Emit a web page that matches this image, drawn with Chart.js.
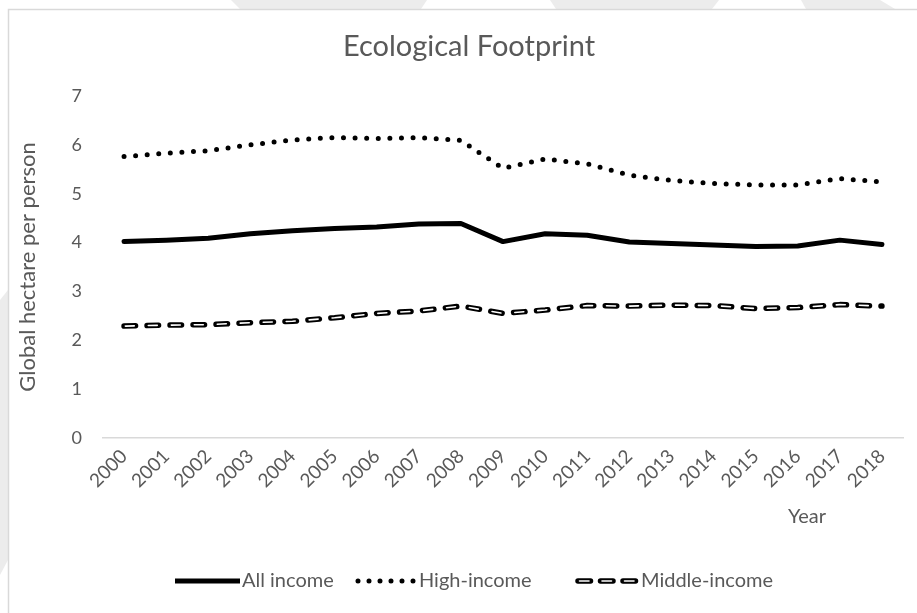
<!DOCTYPE html>
<html>
<head>
<meta charset="utf-8">
<title>Ecological Footprint</title>
<script src="https://cdn.jsdelivr.net/npm/chart.js@4.4.1/dist/chart.umd.min.js"></script>
<style>
  html, body { margin: 0; padding: 0; background: #fff; }
  #wrap { position: relative; width: 917px; height: 613px; overflow: hidden; }
  canvas { position: absolute; left: 0; top: 0; }
</style>
</head>
<body>
<div id="wrap"><canvas id="chart" width="917" height="613"></canvas></div>
<script>
// Years on the category axis
const years = ['2000', '2001', '2002', '2003', '2004', '2005', '2006', '2007', '2008', '2009',
               '2010', '2011', '2012', '2013', '2014', '2015', '2016', '2017', '2018'];

// Ecological footprint, global hectares per person
const allIncome    = [4.02, 4.05, 4.09, 4.18, 4.24, 4.29, 4.32, 4.38, 4.39, 4.02,
                      4.18, 4.15, 4.01, 3.98, 3.95, 3.92, 3.93, 4.05, 3.96];
const highIncome   = [5.76, 5.83, 5.88, 6.00, 6.10, 6.15, 6.13, 6.15, 6.09, 5.52,
                      5.71, 5.61, 5.38, 5.27, 5.21, 5.18, 5.18, 5.31, 5.24];
const middleIncome = [2.29, 2.31, 2.32, 2.36, 2.39, 2.46, 2.55, 2.60, 2.70, 2.55,
                      2.62, 2.71, 2.70, 2.72, 2.71, 2.65, 2.67, 2.73, 2.70];

// Value axis
const yMin = 0;
const yMax = 7;
const yStep = 1;

// Texts
const chartTitle = 'Ecological Footprint';
const yAxisTitle = 'Global hectare per person';
const xAxisTitle = 'Year';
const seriesNames = ['All income', 'High-income', 'Middle-income'];

const FONT = 'Lato, "Open Sans", sans-serif';
const TEXT = '#595959';

// Line looks of the plotted series
const solidStyle  = { color: '#000', width: 5, dash: [], cap: 'round' };
const dottedStyle = { color: '#000', width: 5, dash: [0, 11.6], cap: 'round' };
const dashOuter   = { color: '#000', width: 5.5, dash: [11.5, 11.5], offset: 0, cap: 'round' };
const dashInner   = { color: '#fff', width: 1.6, dash: [9, 14], offset: -1.25, cap: 'round' };

// Legend samples use slightly tighter patterns
const legendSamples = [
  { x: 175, w: 65, strokes: [{ color: '#000', width: 5, dash: [], cap: 'butt' }] },
  { x: 355, w: 62, strokes: [{ color: '#000', width: 5, dash: [0, 11], cap: 'round' }] },
  { x: 575, w: 64, strokes: [
      { color: '#000', width: 5.5, dash: [12.5, 10], cap: 'round' },
      { color: '#fff', width: 1.6, dash: [9.5, 13], offset: -1.5, cap: 'round' }
  ] }
];

function lineDataset(label, data, st, order) {
  return {
    label, data, order,
    borderColor: st.color,
    borderWidth: st.width,
    borderDash: st.dash,
    borderDashOffset: st.offset || 0,
    borderCapStyle: st.cap,
    borderJoinStyle: 'round',
    pointRadius: 0,
    pointHoverRadius: 0,
    tension: 0,
    fill: false
  };
}

function strokeSample(ctx, st, x0, x1, y) {
  ctx.save();
  ctx.strokeStyle = st.color;
  ctx.lineWidth = st.width;
  ctx.setLineDash(st.dash);
  ctx.lineDashOffset = st.offset || 0;
  ctx.lineCap = st.cap;
  ctx.beginPath();
  ctx.moveTo(x0, y);
  ctx.lineTo(x1, y);
  ctx.stroke();
  ctx.restore();
}

// Frame, watermark shapes behind it, titles and the legend
const decorations = {
  id: 'decorations',
  beforeDraw(chart) {
    const { ctx, width, height } = chart;
    ctx.save();
    ctx.fillStyle = '#fff';
    ctx.fillRect(0, 0, width, height);
    ctx.fillStyle = '#ececec';
    const shapes = [
      [[231, 0], [427, 0], [421, 9], [240, 9]],
      [[550, 0], [719, 0], [712, 9], [556, 9]],
      [[801, 0], [880, 0], [895, 9], [806, 9]],
      [[0, 300], [8, 290], [8, 560], [0, 575]]
    ];
    for (const s of shapes) {
      ctx.beginPath();
      ctx.moveTo(s[0][0], s[0][1]);
      for (let i = 1; i < s.length; i++) ctx.lineTo(s[i][0], s[i][1]);
      ctx.closePath();
      ctx.fill();
    }
    ctx.fillStyle = '#fff';
    ctx.fillRect(8, 9, width, height);
    ctx.strokeStyle = '#d9d9d9';
    ctx.lineWidth = 1.5;
    ctx.beginPath();
    ctx.moveTo(8.5, height + 5);
    ctx.lineTo(8.5, 9.5);
    ctx.lineTo(width + 5, 9.5);
    ctx.stroke();
    ctx.restore();
  },
  afterDraw(chart) {
    const { ctx, chartArea } = chart;
    ctx.save();
    ctx.fillStyle = TEXT;
    ctx.textAlign = 'center';
    ctx.textBaseline = 'middle';

    // chart title
    ctx.font = `29px ${FONT}`;
    ctx.fillText(chartTitle, 469, 47);

    // value axis title
    ctx.save();
    ctx.translate(28, 267);
    ctx.rotate(-Math.PI / 2);
    ctx.font = `22px ${FONT}`;
    ctx.fillText(yAxisTitle, 0, 0);
    ctx.restore();

    // category axis title
    ctx.font = `20px ${FONT}`;
    ctx.fillText(xAxisTitle, chartArea.right - 96, 517);

    // legend: sample line followed by its label
    const ly = 581;
    ctx.font = `20px ${FONT}`;
    ctx.textAlign = 'left';
    seriesNames.forEach((name, i) => {
      const s = legendSamples[i];
      s.strokes.forEach(st => {
        const inset = st.cap === 'round' ? 3 : 0;
        strokeSample(ctx, st, s.x + inset, s.x + s.w - inset, ly);
      });
      ctx.fillStyle = TEXT;
      ctx.fillText(name, s.x + s.w + 2, ly);
    });
    ctx.restore();
  }
};

new Chart(document.getElementById('chart'), {
  type: 'line',
  data: {
    labels: years,
    datasets: [
      lineDataset(seriesNames[0], allIncome, solidStyle, 1),
      lineDataset(seriesNames[1], highIncome, dottedStyle, 1),
      lineDataset(seriesNames[2], middleIncome, dashOuter, 1),
      lineDataset(seriesNames[2], middleIncome, dashInner, 0)
    ]
  },
  options: {
    responsive: false,
    animation: false,
    devicePixelRatio: 1,
    layout: { padding: { left: 63, right: 14, top: 96, bottom: 115 } },
    plugins: {
      legend: { display: false },
      title: { display: false },
      tooltip: { enabled: false }
    },
    scales: {
      x: {
        type: 'category',
        offset: true,
        grid: { display: false, drawTicks: false },
        border: { display: true, color: '#d9d9d9', width: 1.5 },
        ticks: {
          color: TEXT,
          font: { family: FONT, size: 19 },
          maxRotation: 45,
          minRotation: 45,
          autoSkip: false,
          padding: 7
        },
        afterFit(scale) { scale.height = 60; }
      },
      y: {
        min: yMin,
        max: yMax,
        grid: { display: false, drawTicks: false },
        border: { display: false },
        ticks: {
          stepSize: yStep,
          color: TEXT,
          font: { family: FONT, size: 18 },
          padding: 21
        },
        afterFit(scale) { scale.width = 40; }
      }
    }
  },
  plugins: [decorations]
});
</script>
</body>
</html>
